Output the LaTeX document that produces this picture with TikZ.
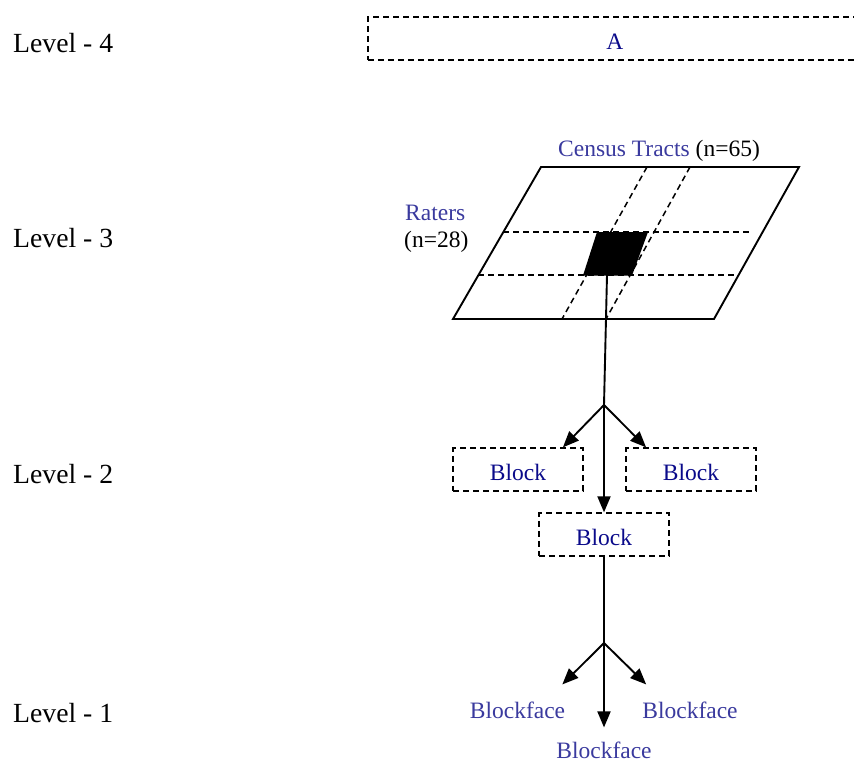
\documentclass[tikz,border=0pt]{standalone}
\usepackage{fontspec}
\setmainfont{Liberation Serif}
\usepackage{xcolor}
\usepackage{tikz}
\usetikzlibrary{arrows.meta, positioning}
\definecolor{labelblue}{RGB}{58, 58, 158}
\definecolor{blocknavy}{RGB}{10, 10, 138}
\newcommand{\levelfont}{\fontsize{27.7}{32}\selectfont}
\newcommand{\labelfont}{\fontsize{23.5}{28}\selectfont}

\begin{document}
\begin{tikzpicture}[
    x=1pt, y=1pt,
    level/.style={anchor=west, font=\levelfont, inner sep=1pt},
    blockbox/.style={draw, line width=1.8pt, dash pattern=on 6pt off 4pt, minimum width=130pt, minimum height=42.5pt, text height=21pt, text depth=0pt, text=blocknavy, font=\labelfont},
    leaf/.style={text=labelblue, font=\labelfont, inner sep=1pt},
    link/.style={line width=1.9pt, -{Triangle[length=16pt,width=13pt]}},
    gridline/.style={line width=1.5pt, dash pattern=on 6pt off 4pt}
]
    \clip (0,0) rectangle (854,-763);

    % Level labels
    \node (lvl4) [level] at (12,-43) {Level - 4};
    \node (lvl3) [level] at (12,-238) {Level - 3};
    \node (lvl2) [level] at (12,-474) {Level - 2};
    \node (lvl1) [level] at (12,-713) {Level - 1};

    % Top box
    \node (boxA) [blockbox, minimum width=494pt, minimum height=43pt, anchor=west] at (367,-38.5) {A};

    % Census tract sheet with rater grid
    \draw [line width=1.9pt] (541,-167) -- (799,-167) -- (714,-319) -- (453,-319) -- cycle;
    \draw [gridline] (503,-232) -- (752,-232);
    \draw [gridline] (478,-275) -- (735,-275);
    \draw [gridline] (647,-167) -- (562,-319);
    \draw [gridline] (690,-167) -- (606,-319);
    \fill (597,-232) -- (648,-232) -- (632,-275.5) -- (583,-275.5) -- cycle;
    \coordinate (cell) at (607,-275);

    \node (tracts) [font=\labelfont, anchor=base, inner sep=0pt] at (659,-156) {\textcolor{labelblue}{Census Tracts} (n=65)};
    \node (raters) [leaf, anchor=base west, inner sep=0pt] at (405,-220) {Raters};
    \node (ratercount) [font=\labelfont, anchor=base west, inner sep=0pt] at (404,-247) {(n=28)};

    % Blocks
    \node (blockL) [blockbox] at (518,-469.5) {Block};
    \node (blockR) [blockbox] at (691,-469.5) {Block};
    \node (blockC) [blockbox] at (604,-534.5) {Block};

    \coordinate (split2) at (604,-405);
    \draw [link] (cell) -- (split2) -- (blockC.north);
    \draw [link] (split2) -- ([xshift=-21pt]blockL.north east);
    \draw [link] (split2) -- ([xshift=21pt]blockR.north west);

    % Blockfaces
    \node (faceL) [leaf] at (517.5,-710) {Blockface};
    \node (faceR) [leaf] at (690,-710) {Blockface};
    \node (faceC) [leaf, inner sep=0pt] at (604,-750) {Blockface};

    \coordinate (split1) at (604,-643);
    \draw [link] (blockC.south) -- (split1) -- ([yshift=14pt]faceC.north);
    \draw [link] (split1) -- ([shift={(-4pt,16pt)}]faceL.north east);
    \draw [link] (split1) -- ([shift={(5pt,16pt)}]faceR.north west);

\end{tikzpicture}
\end{document}
